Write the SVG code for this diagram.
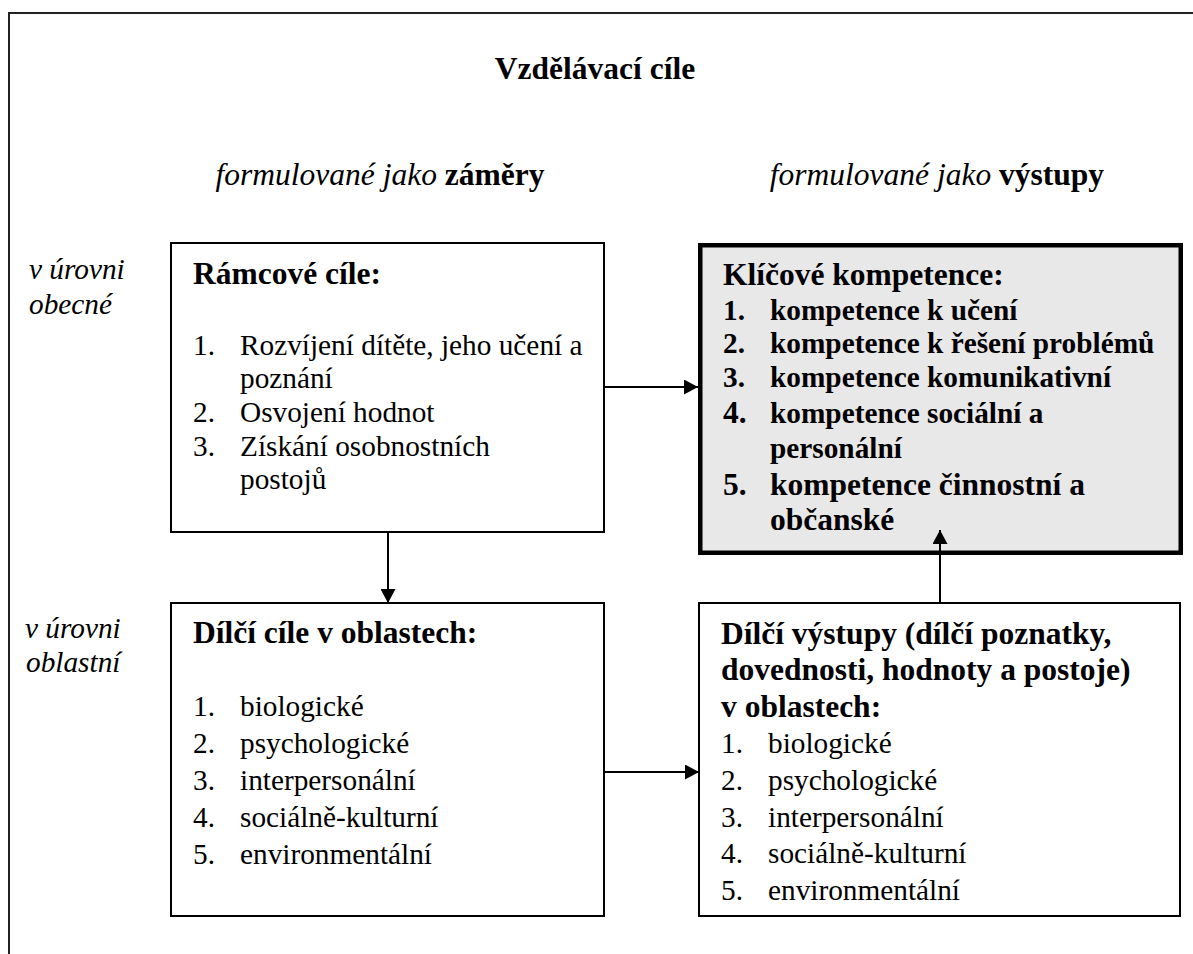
<svg xmlns="http://www.w3.org/2000/svg" width="1193" height="954" viewBox="0 0 1193 954">
<style>
  text { font-family: "Liberation Serif", "Times New Roman", serif; fill: #000; }
  .h { font-size: 31.5px; font-weight: bold; }
  .t { font-size: 29.3px; }
  .tb { font-size: 29.3px; font-weight: bold; }
  .i { font-size: 31.5px; font-style: italic; }
  .lbl { font-size: 29.3px; font-style: italic; }
  .box { fill: #fff; stroke: #000; stroke-width: 2; }
  .key { fill: #e8e8e8; stroke: #000; stroke-width: 4.5; }
  .con { stroke: #000; stroke-width: 2; fill: none; marker-end: url(#arr); }
</style>
<defs>
  <marker id="arr" markerUnits="userSpaceOnUse" markerWidth="14" markerHeight="15" refX="14" refY="7.5" orient="auto">
    <path d="M0,0 L14,7.5 L0,15 z" fill="#000"/>
  </marker>
</defs>
<rect width="1193" height="954" fill="#fff"/>
<g id="frame">
  <path d="M9,954 V13 H1193" fill="none" stroke="#222" stroke-width="2"/>
</g>
<g id="headers">
  <text class="h" x="595" y="79" text-anchor="middle">Vzdělávací cíle</text>
  <text x="380" y="185" text-anchor="middle" font-size="31.5"><tspan font-style="italic">formulované jako </tspan><tspan font-weight="bold">záměry</tspan></text>
  <text x="937" y="185" text-anchor="middle" font-size="31.5"><tspan font-style="italic">formulované jako </tspan><tspan font-weight="bold">výstupy</tspan></text>
  <text class="lbl" x="29" y="279">v úrovni</text>
  <text class="lbl" x="29" y="314">obecné</text>
  <text class="lbl" x="25" y="638">v úrovni</text>
  <text class="lbl" x="26" y="672">oblastní</text>
</g>
<g id="ramcove">
  <rect class="box" x="171" y="243" width="433" height="289"/>
  <text class="h" x="193" y="284">Rámcové cíle:</text>
  <text class="t" x="193" y="355">1.</text><text class="t" x="240" y="355">Rozvíjení dítěte, jeho učení a</text>
  <text class="t" x="240" y="388">poznání</text>
  <text class="t" x="193" y="422">2.</text><text class="t" x="240" y="422">Osvojení hodnot</text>
  <text class="t" x="193" y="456">3.</text><text class="t" x="240" y="456">Získání osobnostních</text>
  <text class="t" x="240" y="489">postojů</text>
</g>
<g id="klicove">
  <rect class="key" x="700.25" y="245.25" width="480.5" height="307.5"/>
  <text class="h" x="723" y="285">Klíčové kompetence:</text>
  <text class="tb" x="723" y="320">1.</text><text class="tb" x="770" y="320">kompetence k učení</text>
  <text class="tb" x="723" y="353">2.</text><text class="tb" x="770" y="353">kompetence k řešení problémů</text>
  <text class="tb" x="723" y="387">3.</text><text class="tb" x="770" y="387">kompetence komunikativní</text>
  <text class="h" x="723" y="423">4.</text><text class="tb" x="770" y="423">kompetence sociální a</text>
  <text class="tb" x="770" y="458">personální</text>
  <text class="h" x="723" y="495">5.</text><text class="h" x="770" y="495">kompetence činnostní a</text>
  <text class="h" x="770" y="530">občanské</text>
</g>
<g id="dilci-cile">
  <rect class="box" x="171" y="603" width="433" height="313"/>
  <text class="h" x="193" y="643">Dílčí cíle v oblastech:</text>
  <text class="t" x="193" y="716">1.</text><text class="t" x="240" y="716">biologické</text>
  <text class="t" x="193" y="753">2.</text><text class="t" x="240" y="753">psychologické</text>
  <text class="t" x="193" y="790">3.</text><text class="t" x="240" y="790">interpersonální</text>
  <text class="t" x="193" y="827">4.</text><text class="t" x="240" y="827">sociálně-kulturní</text>
  <text class="t" x="193" y="864">5.</text><text class="t" x="240" y="864">environmentální</text>
</g>
<g id="dilci-vystupy">
  <rect class="box" x="699" y="603" width="481" height="313"/>
  <text class="h" x="721" y="644">Dílčí výstupy (dílčí poznatky,</text>
  <text class="h" x="721" y="680">dovednosti, hodnoty a postoje)</text>
  <text class="h" x="721" y="717">v oblastech:</text>
  <text class="t" x="721" y="753">1.</text><text class="t" x="768" y="753">biologické</text>
  <text class="t" x="721" y="790">2.</text><text class="t" x="768" y="790">psychologické</text>
  <text class="t" x="721" y="827">3.</text><text class="t" x="768" y="827">interpersonální</text>
  <text class="t" x="721" y="863">4.</text><text class="t" x="768" y="863">sociálně-kulturní</text>
  <text class="t" x="721" y="900">5.</text><text class="t" x="768" y="900">environmentální</text>
</g>
<g id="connectors">
  <path class="con" d="M605,387 H698"/>
  <path class="con" d="M388,533 V603"/>
  <path class="con" d="M605,772 H699"/>
  <path class="con" d="M940,602 V530"/>
</g>
</svg>
